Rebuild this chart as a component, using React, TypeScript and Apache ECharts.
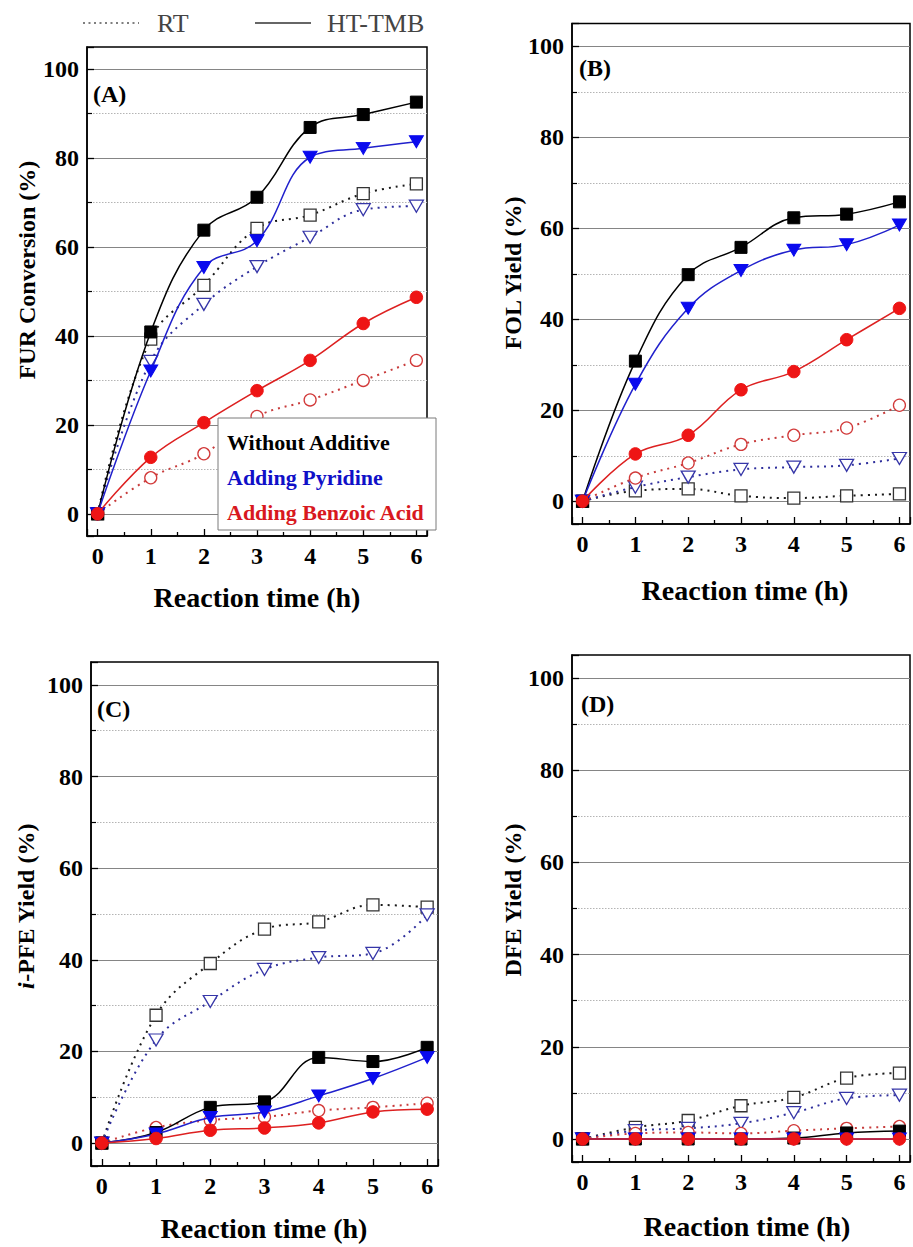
import React, { useEffect, useRef } from 'react';
import * as echarts from 'echarts';

// ---------- data ----------
const hours = [0, 1, 2, 3, 4, 5, 6];

// (A) FUR conversion (%)
const furRtNone = [0, 39.3, 51.4, 64.2, 67.2, 72.0, 74.2];
const furRtPyr = [0, 34.3, 47.1, 55.6, 62.2, 68.4, 69.2];
const furRtBenz = [0, 8.1, 13.5, 21.9, 25.6, 30.0, 34.5];
const furHtNone = [0, 40.9, 63.8, 71.2, 86.9, 89.8, 92.6];
const furHtPyr = [0, 32.1, 55.4, 61.4, 80.2, 82.2, 83.7];
const furHtBenz = [0, 12.7, 20.5, 27.7, 34.5, 42.8, 48.7];

// (B) FOL yield (%)
const folRtNone = [0, 2.3, 2.7, 1.2, 0.7, 1.2, 1.6];
const folRtPyr = [0, 3.1, 5.3, 7.0, 7.5, 7.9, 9.4];
const folRtBenz = [0, 5.1, 8.4, 12.5, 14.5, 16.1, 21.1];
const folHtNone = [0, 30.8, 49.8, 55.8, 62.3, 63.1, 65.8];
const folHtPyr = [0, 25.7, 42.4, 50.7, 55.2, 56.4, 60.7];
const folHtBenz = [0, 10.4, 14.5, 24.5, 28.5, 35.5, 42.4];

// (C) i-PFE yield (%)
const pfeRtNone = [0, 27.9, 39.2, 46.7, 48.3, 52.0, 51.5];
const pfeRtPyr = [0, 22.5, 30.9, 37.9, 40.5, 41.4, 49.8];
const pfeRtBenz = [0, 3.4, 5.0, 5.7, 7.1, 7.8, 8.7];
const pfeHtNone = [0, 2.3, 7.8, 9.0, 18.7, 17.8, 20.9];
const pfeHtPyr = [0, 2.0, 5.6, 6.8, 10.3, 14.1, 18.7];
const pfeHtBenz = [0, 1.0, 2.8, 3.3, 4.4, 6.8, 7.4];

// (D) DFE yield (%)
const dfeRtNone = [0, 2.5, 4.0, 7.2, 9.0, 13.2, 14.3];
const dfeRtPyr = [0, 1.8, 2.3, 3.4, 5.7, 8.8, 9.5];
const dfeRtBenz = [0, 1.2, 1.4, 1.2, 1.8, 2.3, 2.7];
const dfeHtNone = [0, 0, 0, 0, 0.2, 1.3, 1.7];
const dfeHtPyr = [0, 0, 0, 0, 0, 0, 0];
const dfeHtBenz = [0, 0, 0, 0, 0, 0, 0];

const panelLabels = ['(A)', '(B)', '(C)', '(D)'];
const yTitles = ['FUR Conversion (%)', 'FOL Yield (%)', '{it|i}-PFE Yield (%)', 'DFE Yield (%)'];
const xTitle = 'Reaction time (h)';
const additiveNames = ['Without Additive', 'Adding Pyridine', 'Adding Benzoic Acid'];
const conditionNames = ['RT', 'HT-TMB'];

const panelData = [
  [furRtNone, furRtPyr, furRtBenz, furHtNone, furHtPyr, furHtBenz],
  [folRtNone, folRtPyr, folRtBenz, folHtNone, folHtPyr, folHtBenz],
  [pfeRtNone, pfeRtPyr, pfeRtBenz, pfeHtNone, pfeHtPyr, pfeHtBenz],
  [dfeRtNone, dfeRtPyr, dfeRtBenz, dfeHtNone, dfeHtPyr, dfeHtBenz],
];

// ---------- styles / layout ----------
const FONT = 'Liberation Serif, Times New Roman, serif';
const tickRich = { t: { fontFamily: 'Liberation Serif', fontWeight: 'bold', fontSize: 24, color: '#000' } };

const grids = [
  { left: 87, top: 47, width: 340, height: 489 },
  { left: 572, top: 23.5, width: 347, height: 500.5 },
  { left: 91, top: 662, width: 347, height: 504 },
  { left: 572, top: 655, width: 350.7, height: 507 },
];

const yTitlePos = [
  [27, 270],
  [513, 273],
  [26, 906],
  [513, 900],
];
const xTitlePos = [
  [257, 597],
  [745, 590],
  [264, 1228],
  [747, 1226],
];
const labelPos = [
  [93, 94],
  [579, 68],
  [97, 709],
  [581, 704],
];

const seriesStyles = [
  { symbol: 'rect', rot: 0, size: 12, fill: '#ffffff', border: '#333333', line: '#1a1a1a', dotted: true },
  { symbol: 'triangle', rot: 180, size: [14, 12], fill: '#ffffff', border: '#3636a8', line: '#2e2e9c', dotted: true },
  { symbol: 'circle', rot: 0, size: 12, fill: '#ffffff', border: '#d23a3a', line: '#c83c3c', dotted: true },
  { symbol: 'rect', rot: 0, size: 12, fill: '#000000', border: '#000000', line: '#000000', dotted: false },
  { symbol: 'triangle', rot: 180, size: [14, 12], fill: '#0a0aee', border: '#0a0aee', line: '#2020cc', dotted: false },
  { symbol: 'circle', rot: 0, size: 12.5, fill: '#ee1515', border: '#ee1515', line: '#dd2020', dotted: false },
];

function buildOption() {
  const xAxis = grids.map((_, gi) => ({
    type: 'value',
    gridIndex: gi,
    min: -0.2,
    max: 6.2,
    minInterval: 1,
    maxInterval: 1,
    axisLine: { show: true, onZero: false, lineStyle: { color: '#000', width: 1.5 } },
    axisTick: { show: true, inside: true, length: 7, lineStyle: { color: '#000', width: 1.3 } },
    minorTick: { show: true, splitNumber: 2, length: 4, lineStyle: { color: '#000', width: 1.3 } },
    splitLine: { show: false },
    minorSplitLine: { show: false },
    axisLabel: {
      formatter: (v: number) =>
        Math.abs(v - Math.round(v)) < 1e-6 && v >= 0 && v <= 6 ? `{t|${Math.round(v)}}` : '',
      rich: tickRich,
      fontFamily: FONT,
      fontWeight: 'bold',
      fontSize: 24,
      color: '#000',
      margin: 8,
    },
  }));

  const yAxis = grids.map((_, gi) => ({
    type: 'value',
    gridIndex: gi,
    min: -5,
    max: 105,
    minInterval: 20,
    maxInterval: 20,
    axisLine: { show: true, onZero: false, lineStyle: { color: '#000', width: 1.5 } },
    axisTick: { show: true, inside: true, length: 7, lineStyle: { color: '#000', width: 1.3 } },
    minorTick: { show: true, splitNumber: 2, length: 5, lineStyle: { color: '#000', width: 1.2 } },
    splitLine: {
      show: true,
      showMinLine: false,
      showMaxLine: false,
      lineStyle: { color: '#858585', width: 1.2, type: 'solid' },
    },
    minorSplitLine: { show: true, lineStyle: { color: '#b4b4b4', width: 1, type: [1.5, 1.5] } },
    axisLabel: {
      formatter: (v: number) => (Math.abs(v % 20) < 1e-6 && v >= 0 && v <= 100 ? `{t|${v}}` : ''),
      rich: tickRich,
      fontFamily: FONT,
      fontWeight: 'bold',
      fontSize: 24,
      color: '#000',
      margin: 8,
    },
  }));

  const series: any[] = [];
  panelData.forEach((arrs, gi) => {
    arrs.forEach((vals, si) => {
      const st = seriesStyles[si];
      series.push({
        type: 'line',
        name: `${conditionNames[si < 3 ? 0 : 1]} ${additiveNames[si % 3]}`,
        xAxisIndex: gi,
        yAxisIndex: gi,
        data: hours.map((h, i) => [h, vals[i]]),
        smooth: 0.4,
        clip: false,
        silent: true,
        showAllSymbol: true,
        symbol: st.symbol,
        symbolSize: st.size,
        symbolRotate: st.rot,
        lineStyle: st.dotted
          ? { color: st.line, width: 2, type: [2, 5] }
          : { color: st.line, width: 1.5, type: 'solid' },
        itemStyle: { color: st.fill, borderColor: st.border, borderWidth: st.dotted ? 1.3 : 1 },
        z: 3 + si,
      });
    });
  });

  const graphic: any[] = [];
  // top legend (line styles)
  graphic.push({
    type: 'line',
    shape: { x1: 83, y1: 23, x2: 139, y2: 23 },
    style: { stroke: '#555', lineWidth: 1.6, lineDash: [2, 3.5] },
  });
  graphic.push({
    type: 'text',
    x: 157,
    y: 23,
    style: { text: conditionNames[0], font: `26px ${FONT}`, fill: '#444', align: 'left', verticalAlign: 'middle', textAlign: 'left', textVerticalAlign: 'middle' },
  });
  graphic.push({
    type: 'line',
    shape: { x1: 255, y1: 23, x2: 311, y2: 23 },
    style: { stroke: '#333', lineWidth: 1.4 },
  });
  graphic.push({
    type: 'text',
    x: 327,
    y: 23,
    style: { text: conditionNames[1], font: `26px ${FONT}`, fill: '#444', align: 'left', verticalAlign: 'middle', textAlign: 'left', textVerticalAlign: 'middle' },
  });

  // panel labels and titles
  for (let gi = 0; gi < 4; gi++) {
    graphic.push({
      type: 'text',
      x: labelPos[gi][0],
      y: labelPos[gi][1],
      z: 50,
      style: { text: panelLabels[gi], font: `bold 24px ${FONT}`, fill: '#000', align: 'left', verticalAlign: 'middle', textAlign: 'left', textVerticalAlign: 'middle' },
    });
    graphic.push({
      type: 'text',
      x: yTitlePos[gi][0],
      y: yTitlePos[gi][1],
      rotation: Math.PI / 2,
      style: {
        text: yTitles[gi],
        font: `bold 24px ${FONT}`,
        fill: '#000',
        align: 'center',
        verticalAlign: 'middle',
        textAlign: 'center',
        textVerticalAlign: 'middle',
        rich: { it: { fontStyle: 'italic', fontWeight: 'bold', fontSize: 24, fontFamily: FONT, fill: '#000' } },
      },
    });
    graphic.push({
      type: 'text',
      x: xTitlePos[gi][0],
      y: xTitlePos[gi][1],
      style: { text: xTitle, font: `bold 28px ${FONT}`, fill: '#000', align: 'center', verticalAlign: 'middle', textAlign: 'center', textVerticalAlign: 'middle' },
    });
  }

  // additive legend box in panel A
  graphic.push({
    type: 'rect',
    z: 60,
    shape: { x: 218, y: 418, width: 218, height: 112 },
    style: { fill: '#fff', stroke: '#7a7a7a', lineWidth: 1 },
  });
  const legendColors = ['#000000', '#1010c8', '#d81820'];
  const legendY = [442, 477, 512];
  additiveNames.forEach((n, i) => {
    graphic.push({
      type: 'text',
      z: 61,
      x: 227,
      y: legendY[i],
      style: { text: n, font: `bold 22px ${FONT}`, fill: legendColors[i], align: 'left', verticalAlign: 'middle', textAlign: 'left', textVerticalAlign: 'middle' },
    });
  });

  return {
    animation: false,
    backgroundColor: '#ffffff',
    grid: grids.map((g) => ({ ...g, show: true, borderColor: '#000', borderWidth: 1.5, backgroundColor: 'transparent', containLabel: false })),
    xAxis,
    yAxis,
    series,
    graphic,
  };
}

export default function App() {
  const ref = useRef<HTMLDivElement>(null);
  useEffect(() => {
    if (!ref.current) return;
    const chart = echarts.init(ref.current, undefined, { renderer: 'svg' });
    chart.setOption(buildOption() as any);
    return () => chart.dispose();
  }, []);
  return (
    <div
      ref={ref}
      style={{ position: 'absolute', left: 0, top: 0, width: 913, height: 1247, overflow: 'hidden', background: '#fff' }}
    />
  );
}
